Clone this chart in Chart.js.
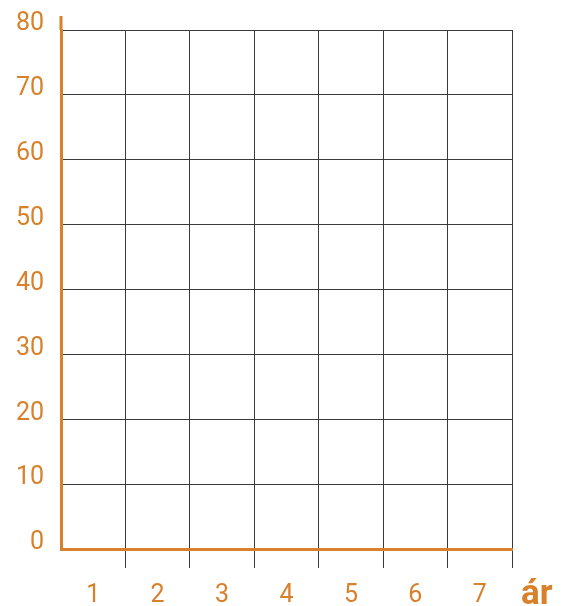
<!DOCTYPE html>
<html lang="is">
<head>
  <meta charset="UTF-8">
  <script src="https://cdn.jsdelivr.net/npm/chart.js@4.4.0/dist/chart.umd.min.js"></script>
  <title>Tómt rúðunet</title>
  <style>
    body { margin: 0; background: #fff; }
  </style>
</head>
<body>
  <canvas id="chart" width="563" height="606"></canvas>

  <script>
    // data -- empty grid, 7 years on x, 0..80 on y
    const xLabels = ['1', '2', '3', '4', '5', '6', '7'];
    const yTicks = [0, 10, 20, 30, 40, 50, 60, 70, 80];
    const values = [null, null, null, null, null, null, null];
    const xTitle = 'ár';

    const orange = '#D8802A';
    const gridColor = '#3a3a3a';
    const fontFamily = 'Roboto, "Liberation Sans", sans-serif';

    // extra bits: axis line sticking out above 80, and the "ár" label
    const extras = {
      id: 'extras',
      afterDraw(chart) {
        const ctx = chart.ctx;
        const area = chart.chartArea;
        ctx.save();
        ctx.strokeStyle = orange;
        ctx.lineWidth = 3;
        ctx.beginPath();
        ctx.moveTo(area.left, area.top - 14);
        ctx.lineTo(area.left, area.top);
        ctx.stroke();

        ctx.fillStyle = orange;
        ctx.font = 'bold 35px ' + fontFamily;
        ctx.textAlign = 'left';
        ctx.textBaseline = 'alphabetic';
        ctx.fillText(xTitle, area.right + 9, area.bottom + 55);
        ctx.restore();
      }
    };

    const elChart = document.getElementById('chart').getContext('2d');
    const myChart = new Chart(elChart, {
      type: 'line',
      data: {
        labels: xLabels,
        datasets: [{
          data: values,
          borderColor: orange,
          pointRadius: 0
        }]
      },
      options: {
        responsive: false,
        animation: false,
        layout: { padding: { top: 30, right: 51, bottom: 0, left: 0 } },
        plugins: {
          legend: { display: false },
          tooltip: { enabled: false }
        },
        scales: {
          x: {
            type: 'category',
            offset: true,
            afterFit: (s) => { s.height = 57; s.paddingLeft = 0; s.paddingRight = 0; },
            grid: {
              offset: true,
              color: (c) => c.index === 0 ? 'rgba(0,0,0,0)' : gridColor,
              lineWidth: 1,
              drawTicks: true,
              tickLength: 19,
              tickColor: (c) => c.index === 0 ? 'rgba(0,0,0,0)' : gridColor
            },
            border: { color: orange, width: 3 },
            ticks: {
              color: orange,
              padding: 13,
              font: { family: fontFamily, size: 25 }
            }
          },
          y: {
            min: 0,
            max: 80,
            afterFit: (s) => { s.width = 61; s.paddingTop = 0; s.paddingBottom = 0; },
            afterBuildTicks: (s) => { s.ticks = yTicks.map(v => ({ value: v })); },
            grid: {
              color: gridColor,
              lineWidth: 1,
              drawTicks: false
            },
            border: { color: orange, width: 3 },
            ticks: {
              color: orange,
              padding: 17,
              labelOffset: -6,
              font: { family: fontFamily, size: 25 }
            }
          }
        }
      },
      plugins: [extras]
    });
  </script>
</body>
</html>
